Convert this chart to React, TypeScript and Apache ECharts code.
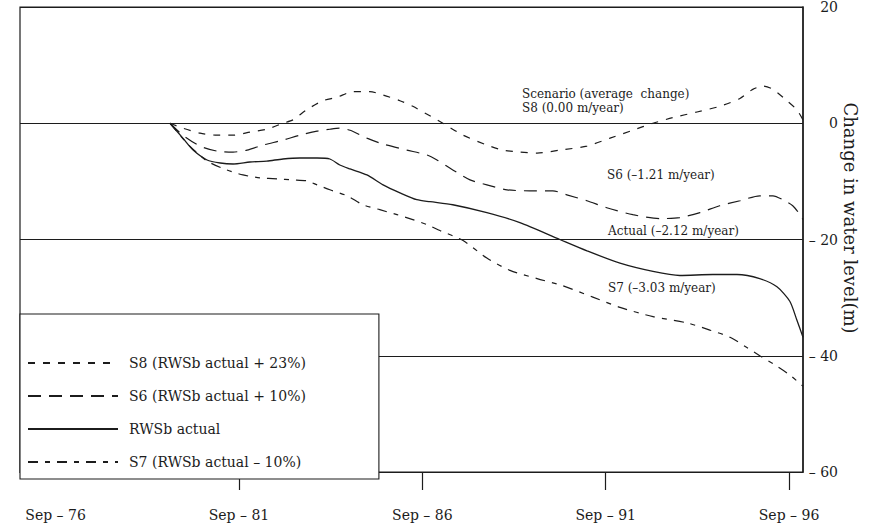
import React, { useEffect, useRef } from 'react';
import * as echarts from 'echarts';

// Decimal years (Sep-76 = 1976.67) and change in water level (m)
const s8Years = [1979.79, 1980.14, 1980.61, 1981.07, 1981.51, 1981.97, 1982.43, 1982.87, 1983.14, 1983.52, 1983.96, 1984.34, 1984.78, 1985.24, 1985.6, 1986.06, 1986.41, 1986.8, 1987.23, 1987.78, 1988.43, 1988.87, 1989.33, 1989.8, 1990.42, 1991.16, 1991.79, 1992.41, 1992.96, 1993.5, 1994.16, 1994.78, 1995.33, 1995.68, 1995.96, 1996.23, 1996.61, 1996.88, 1997.05];
const s8Values = [0, -0.85, -1.71, -2.05, -2.05, -1.54, -1.03, 0, 0.58, 2.33, 3.88, 4.47, 5.44, 5.44, 4.86, 3.88, 2.91, 1.55, 0, -2.05, -3.76, -4.62, -4.96, -5.13, -4.62, -3.93, -2.56, -1.2, 0, 0.97, 1.94, 2.91, 4.27, 5.83, 6.41, 5.83, 3.88, 2.33, 0.58];

const s6Years = [1979.79, 1980.14, 1980.61, 1981.07, 1981.51, 1981.89, 1982.32, 1982.87, 1983.33, 1983.8, 1984.15, 1984.42, 1984.7, 1985.16, 1985.6, 1986.25, 1986.8, 1987.07, 1987.5, 1987.97, 1988.43, 1988.98, 1989.6, 1990.23, 1990.61, 1991.16, 1991.7, 1992.41, 1993.15, 1993.69, 1994.24, 1994.78, 1995.33, 1995.87, 1996.23, 1996.5, 1996.77, 1996.97, 1997.05];
const s6Values = [0, -2.05, -3.93, -4.79, -4.96, -4.62, -3.76, -2.91, -2.05, -1.37, -1.03, -0.85, -1.2, -2.56, -3.59, -4.62, -5.47, -6.32, -8.03, -9.74, -10.6, -11.45, -11.62, -11.62, -12.31, -13.33, -14.53, -15.73, -16.41, -16.24, -15.38, -14.19, -13.33, -12.48, -12.48, -13.16, -14.19, -15.73, -16.58];

const actualYears = [1979.79, 1980.14, 1980.42, 1980.8, 1981.16, 1981.51, 1981.97, 1982.43, 1982.87, 1983.33, 1983.8, 1984.15, 1984.42, 1984.7, 1985.16, 1985.6, 1986.06, 1986.52, 1986.88, 1987.5, 1988.43, 1989.33, 1990.42, 1991.16, 1992.06, 1992.96, 1993.69, 1994.59, 1995.25, 1995.87, 1996.34, 1996.69, 1996.88, 1997.05];
const actualValues = [0, -2.56, -4.62, -6.32, -6.84, -7.01, -6.67, -6.5, -6.15, -5.98, -5.98, -6.15, -7.18, -7.86, -8.89, -10.6, -11.97, -13.16, -13.5, -14.02, -15.38, -17.09, -20.0, -21.95, -24.07, -25.49, -26.19, -26.02, -26.02, -26.73, -28.14, -30.62, -33.81, -36.81];

const s7Years = [1979.79, 1980.06, 1980.33, 1980.8, 1981.34, 1981.78, 1982.24, 1982.71, 1983.14, 1983.52, 1983.8, 1984.15, 1984.62, 1985.05, 1985.51, 1985.98, 1986.41, 1986.8, 1987.15, 1987.78, 1988.43, 1989.06, 1989.8, 1990.5, 1991.32, 1992.06, 1992.96, 1993.88, 1994.51, 1995.06, 1995.52, 1995.87, 1996.34, 1996.69, 1997.05];
const s7Values = [0, -2.05, -3.93, -6.5, -8.03, -8.89, -9.4, -9.57, -9.74, -9.91, -10.6, -11.45, -12.48, -14.02, -14.87, -15.73, -16.58, -17.44, -18.46, -20.18, -23.19, -25.31, -26.73, -27.96, -29.91, -31.68, -33.27, -34.34, -35.58, -36.81, -38.58, -40.0, -41.8, -43.31, -45.26];

const seriesNames = ['S8 (RWSb actual + 23%)', 'S6 (RWSb actual + 10%)', 'RWSb actual', 'S7 (RWSb actual – 10%)'];

const xLabelYears = [1976.67, 1981.67, 1986.67, 1991.67, 1996.67];
const xLabelTexts = ['Sep – 76', 'Sep – 81', 'Sep – 86', 'Sep – 91', 'Sep – 96'];
const xTickYears = [1981.67, 1986.67, 1991.67, 1996.67];

const annotations = [
  { text: 'Scenario (average  change)', x: 522, y: 94 },
  { text: 'S8 (0.00 m/year)', x: 522, y: 108 },
  { text: 'S6 (–1.21 m/year)', x: 607, y: 175 },
  { text: 'Actual (–2.12 m/year)', x: 608, y: 231 },
  { text: 'S7 (–3.03 m/year)', x: 608, y: 288 },
];

const INK = '#1c1c1c';
const SERIF = '"DejaVu Serif", "Liberation Serif", serif';

function pairs(xs: number[], ys: number[]) {
  return xs.map((x, i) => [x, ys[i]]);
}

export default function App() {
  const ref = useRef<HTMLDivElement>(null);
  useEffect(() => {
    if (!ref.current) return;
    const chart = echarts.init(ref.current, null, { renderer: 'svg' });
    const lineSeries = (name: string, xs: number[], ys: number[], type: any, width: number) => ({
      name,
      type: 'line',
      data: pairs(xs, ys),
      symbol: 'none',
      showSymbol: false,
      smooth: 0.25,
      lineStyle: { color: INK, width, type },
      itemStyle: { color: INK },
      z: 3,
    });
    chart.setOption({
      animation: false,
      backgroundColor: '#fff',
      grid: {
        left: 20,
        right: 72,
        top: 6,
        bottom: 55,
        show: true,
        borderColor: INK,
        borderWidth: 1.2,
        backgroundColor: 'transparent',
      },
      xAxis: {
        type: 'value',
        min: 1975.7,
        max: 1997.05,
        splitLine: { show: false },
        axisLine: { show: true, onZero: false, lineStyle: { color: INK, width: 1.2 } },
        axisTick: {
          show: true,
          inside: false,
          length: 18,
          customValues: xTickYears,
          lineStyle: { color: INK, width: 1.2 },
        },
        axisLabel: {
          customValues: xLabelYears,
          margin: 36,
          color: INK,
          fontFamily: SERIF,
          fontSize: 14,
          formatter: (v: number) => {
            let best = 0;
            xLabelYears.forEach((y, i) => {
              if (Math.abs(y - v) < Math.abs(xLabelYears[best] - v)) best = i;
            });
            return xLabelTexts[best];
          },
        },
      },
      yAxis: {
        type: 'value',
        position: 'right',
        min: -60,
        max: 20,
        interval: 20,
        axisLine: { show: true, onZero: false, lineStyle: { color: INK, width: 1.5 } },
        axisTick: { show: false },
        splitLine: { show: true, lineStyle: { color: INK, width: 1.1 } },
        axisLabel: {
          align: 'right',
          margin: 35,
          color: INK,
          fontFamily: SERIF,
          fontSize: 14,
          formatter: (v: number) => (v < 0 ? '– ' + Math.abs(v) : String(v)),
        },
      },
      legend: {
        orient: 'vertical',
        left: 20,
        top: 314,
        padding: [42, 73, 10, 7],
        itemGap: 19,
        itemWidth: 90,
        itemHeight: 14,
        backgroundColor: '#fff',
        borderColor: INK,
        borderWidth: 1.1,
        selectedMode: false,
        z: 10,
        itemStyle: { opacity: 0 },
        textStyle: { fontFamily: SERIF, fontSize: 14, color: INK, padding: [0, 0, 0, 6] },
        data: seriesNames,
      },
      graphic: [
        ...annotations.map((a) => ({
          type: 'text',
          x: a.x,
          y: a.y,
          z: 20,
          style: {
            text: a.text,
            fill: INK,
            fontFamily: SERIF,
            fontSize: 12,
            align: 'left',
            verticalAlign: 'middle',
          },
        })),
        {
          type: 'text',
          x: 850,
          y: 218,
          rotation: -Math.PI / 2,
          z: 20,
          style: {
            text: 'Change in water level(m)',
            fill: INK,
            fontFamily: SERIF,
            fontSize: 18,
            align: 'center',
            verticalAlign: 'middle',
          },
        },
      ],
      series: [
        lineSeries(seriesNames[0], s8Years, s8Values, [7, 8], 1.2),
        lineSeries(seriesNames[1], s6Years, s6Values, [13, 8], 1.2),
        lineSeries(seriesNames[2], actualYears, actualValues, 'solid', 1.3),
        lineSeries(seriesNames[3], s7Years, s7Values, [10, 7, 5, 7], 1.2),
      ],
    });
    return () => chart.dispose();
  }, []);
  return (
    <div
      ref={ref}
      style={{ position: 'fixed', left: 0, top: 0, width: 875, height: 527, background: '#fff' }}
    />
  );
}
